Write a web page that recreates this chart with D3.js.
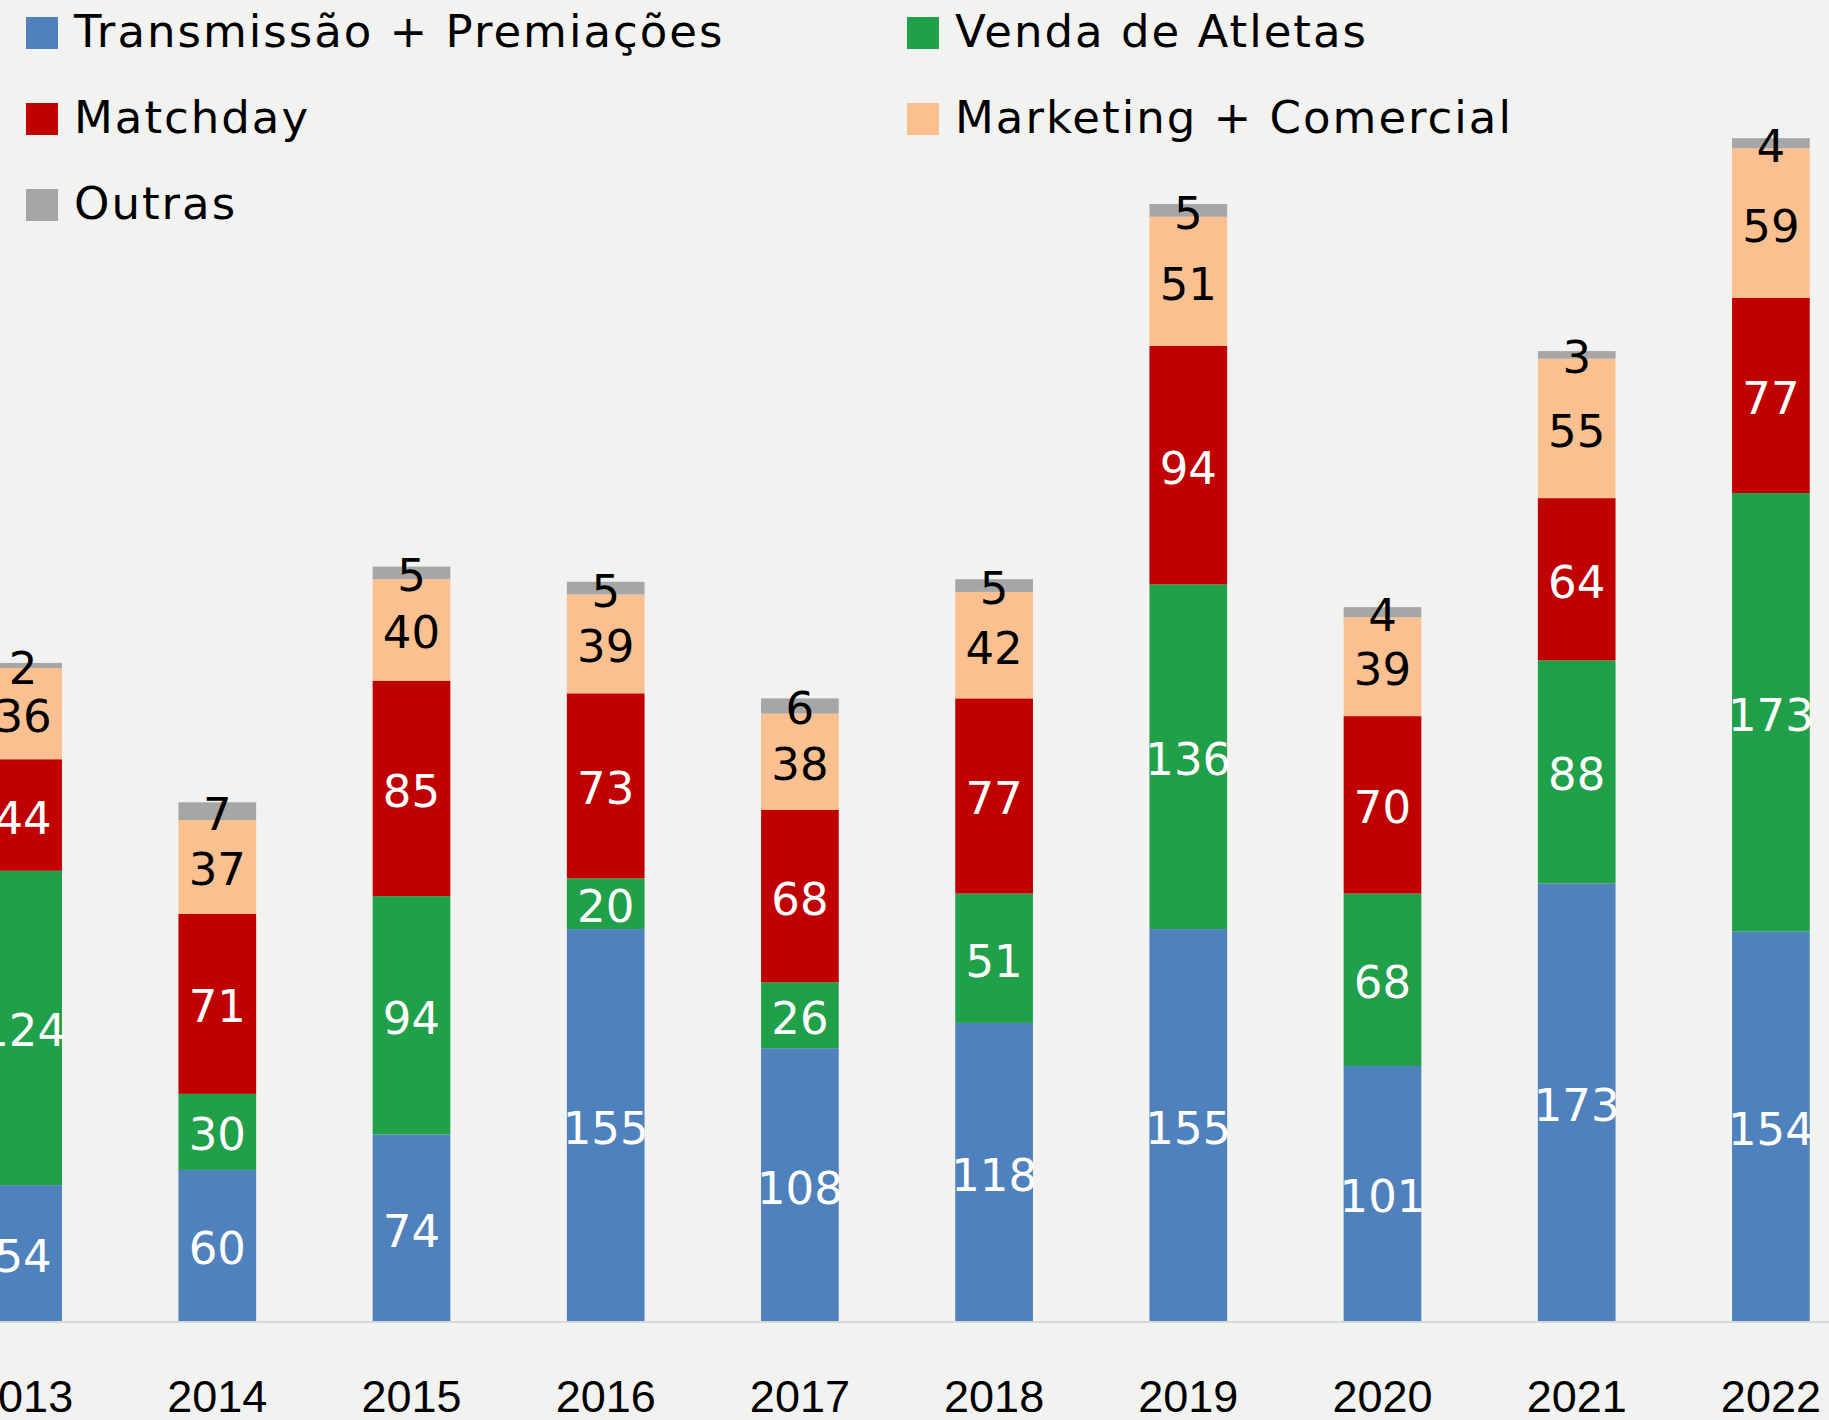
<!DOCTYPE html>
<html>
<head>
<meta charset="utf-8">
<script src="https://cdn.jsdelivr.net/npm/d3@7"></script>
<style>
	html, body { margin: 0; padding: 0; background: #f2f2f1; }
	svg { display: block; font-family: "DejaVu Sans", sans-serif; }
	.seg-label { font-size: 45px; text-anchor: middle; dominant-baseline: central; }
	.legend-label { font-size: 45px; dominant-baseline: central; fill: #000; letter-spacing: 2px; }
	.x-axis text { font-size: 45px; fill: #000; }
	.x-axis path { stroke: #d9d9d9; stroke-width: 2; }
</style>
</head>
<body>
<div id="svg"></div>
<script>
/* jshint esversion: 6 */

// Data
const years = ["2013", "2014", "2015", "2016", "2017", "2018", "2019", "2020", "2021", "2022"];
const transmissao = [54, 60, 74, 155, 108, 118, 155, 101, 173, 154];
const vendaAtletas = [124, 30, 94, 20, 26, 51, 136, 68, 88, 173];
const matchday = [44, 71, 85, 73, 68, 77, 94, 70, 64, 77];
const marketing = [36, 37, 40, 39, 38, 42, 51, 39, 55, 59];
const outras = [2, 7, 5, 5, 6, 5, 5, 4, 3, 4];

const seriesNames = ["Transmissão + Premiações", "Venda de Atletas", "Matchday", "Marketing + Comercial", "Outras"];

(function() {
	function show() {

		/////////////////////////////////////////////////////////////////////////
		//// Set Up /////////////////////////////////////////////////////////////
		/////////////////////////////////////////////////////////////////////////

		const width = 1829,
					height = 1420,
					baseline = 1322;

		const series = [
			{key: seriesNames[0], values: transmissao, color: "#4f81bd", text: "#fff"},
			{key: seriesNames[1], values: vendaAtletas, color: "#1fa049", text: "#fff"},
			{key: seriesNames[2], values: matchday, color: "#c00000", text: "#fff"},
			{key: seriesNames[3], values: marketing, color: "#fac090", text: "#000"},
			{key: seriesNames[4], values: outras, color: "#a6a6a6", text: "#000"}
		];

		const rows = years.map((y, i) => {
			const r = {year: y};
			series.forEach(s => { r[s.key] = s.values[i]; });
			return r;
		});

		const stack = d3.stack().keys(seriesNames)(rows);

		// Scales
		const xScale = d3.scaleBand()
			.domain(years)
			.range([-74, 1868])
			.paddingInner(0.6)
			.paddingOuter(0.3);

		const yScale = d3.scaleLinear()
			.domain([0, 520])
			.range([baseline, baseline - 520 * 2.535]);

		const svg = d3.select("#svg")
			.append("svg")
				.attr("width", width)
				.attr("height", height);

		/////////////////////////////////////////////////////////////////////////
		//// Bars ///////////////////////////////////////////////////////////////
		/////////////////////////////////////////////////////////////////////////

		const layers = svg.append("g")
			.selectAll("g")
			.data(stack)
			.enter()
			.append("g")
				.attr("fill", (d, i) => series[i].color);

		layers.selectAll("rect")
			.data(d => d)
			.enter()
			.append("rect")
				.attr("x", d => xScale(d.data.year))
				.attr("y", d => yScale(d[1]))
				.attr("width", xScale.bandwidth())
				.attr("height", d => yScale(d[0]) - yScale(d[1]));

		// Labels
		const labelLayers = svg.append("g")
			.selectAll("g")
			.data(stack)
			.enter()
			.append("g")
				.attr("fill", (d, i) => series[i].text);

		labelLayers.selectAll("text")
			.data(d => d)
			.enter()
			.append("text")
				.attr("class", "seg-label")
				.attr("x", d => xScale(d.data.year) + xScale.bandwidth() / 2)
				.attr("y", d => (yScale(d[0]) + yScale(d[1])) / 2 + 3)
				.text(d => d[1] - d[0]);

		/////////////////////////////////////////////////////////////////////////
		// Axis
		const xAxis = svg.append("g")
			.attr("class", "x-axis")
			.attr("transform", `translate(0, ${baseline})`)
			.call(d3.axisBottom(xScale).tickSize(0).tickPadding(74));

		xAxis.select(".domain")
			.attr("d", `M-80,0H${width + 80}`);

		xAxis.selectAll("text")
			.attr("dy", "0.35em")
			.attr("font-family", null)
			.attr("font-size", null);

		/////////////////////////////////////////////////////////////////////////
		//// Legend /////////////////////////////////////////////////////////////
		/////////////////////////////////////////////////////////////////////////

		const legendPos = [
			{x: 26, y: 33},
			{x: 907, y: 33},
			{x: 26, y: 119},
			{x: 907, y: 119},
			{x: 26, y: 205}
		];

		const legend = svg.append("g")
			.selectAll("g")
			.data(series)
			.enter()
			.append("g")
				.attr("transform", (d, i) => `translate(${legendPos[i].x}, ${legendPos[i].y})`);

		legend.append("rect")
			.attr("x", 0)
			.attr("y", -16)
			.attr("width", 32)
			.attr("height", 32)
			.attr("fill", d => d.color);

		legend.append("text")
			.attr("class", "legend-label")
			.attr("x", 48)
			.attr("y", -2)
			.text(d => d.key);
	}

	show();
})();
</script>
</body>
</html>
